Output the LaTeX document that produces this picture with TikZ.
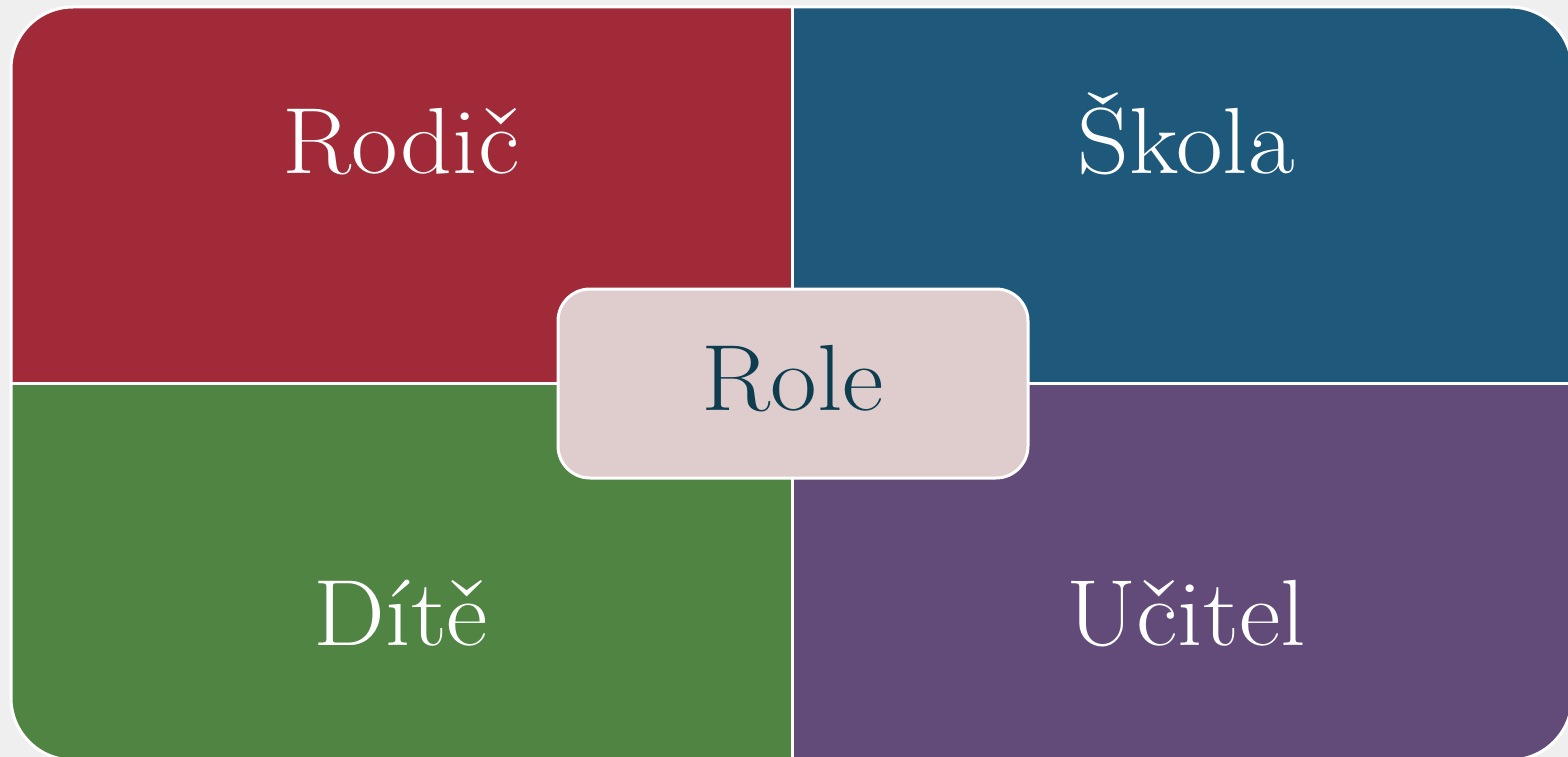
\documentclass[tikz,border=0pt]{standalone}
\usepackage{fontspec}
\definecolor{bg}{HTML}{EFEFEF}
\definecolor{qred}{HTML}{A12A38}
\definecolor{qblue}{HTML}{1E597B}
\definecolor{qgreen}{HTML}{508442}
\definecolor{qpurple}{HTML}{624B79}
\definecolor{cfill}{HTML}{DFCDCE}
\definecolor{ctext}{HTML}{0D3D4F}
\tikzset{
  lbl/.style={anchor=base, text=white, font=\fontsize{94}{94}\selectfont, inner sep=0pt, xscale=1.08},
  centerbox/.style={fill=cfill, draw=white, line width=3pt, rounded corners=32pt},
}
\begin{document}
\begin{tikzpicture}[x=1pt,y=-1pt]
\useasboundingbox (0,0) rectangle (1568,757);
\clip (0,0) rectangle (1568,757);
\fill[bg] (0,0) rectangle (1568,757);
\begin{scope}
\clip[rounded corners=62pt] (11,7) rectangle (1572,760);
\fill[qred] (11,7) rectangle (792.5,383.5);
\fill[qblue] (792.5,7) rectangle (1572,383.5);
\fill[qgreen] (11,383.5) rectangle (792.5,760);
\fill[qpurple] (792.5,383.5) rectangle (1572,760);
\draw[white, line width=2.5pt] (792.5,0) -- (792.5,760) (0,383.5) -- (1572,383.5);
\end{scope}
\draw[white, line width=3pt, rounded corners=62pt] (11,7) rectangle (1572,760);
\node[lbl] (rodic) at (401,173) {Rodič};
\node[lbl] (skola) at (1186,173) {Škola};
\node[lbl] (dite) at (401,645) {Dítě};
\node[lbl] (ucitel) at (1186,645) {Učitel};
\node[centerbox, minimum width=470pt, minimum height=189pt] (box) at (793,383.5) {};
\node[lbl, text=ctext] (role) at (793,410) {Role};
\end{tikzpicture}
\end{document}
